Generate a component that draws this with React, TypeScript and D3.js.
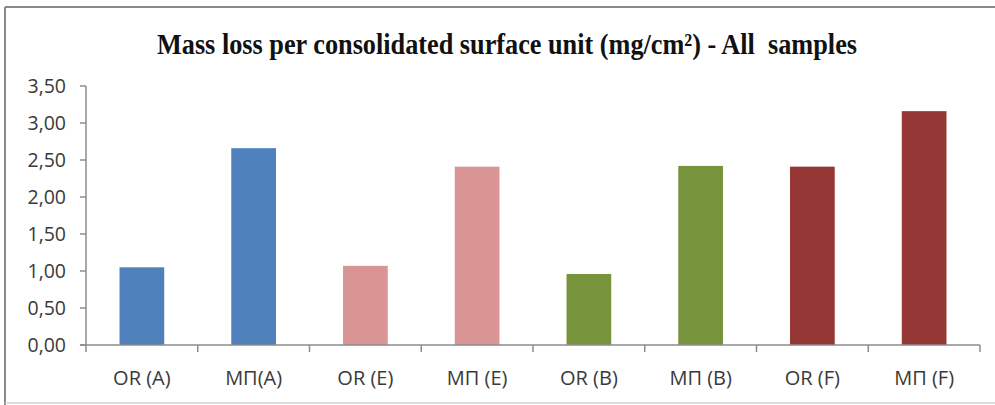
import React from "react";
import * as d3 from "d3";

const categories = ["OR (A)", "MΠ(A)", "OR (E)", "MΠ (E)", "OR (B)", "MΠ (B)", "OR (F)", "MΠ (F)"];
const values = [1.05, 2.66, 1.07, 2.41, 0.96, 2.42, 2.41, 3.16];
const barColors = ["#4F81BD", "#4F81BD", "#D99594", "#D99594", "#77933C", "#77933C", "#953735", "#953735"];
const yTicks = [0, 0.5, 1, 1.5, 2, 2.5, 3, 3.5];
const title = "Mass loss per consolidated surface unit (mg/cm²) - All  samples";

export default function App() {
  const W = 995, H = 405;
  const x0 = 86, x1 = 980, yBase = 345, yTop = 86;
  const x = d3.scaleBand<string>().domain(categories).range([x0, x1]).paddingInner(0.6).paddingOuter(0.3);
  const y = d3.scaleLinear().domain([0, 3.5]).range([yBase, yTop]);
  const fmt = (v: number) => d3.format(".2f")(v).replace(".", ",");
  const step = x.step();
  const boundaries = d3.range(categories.length + 1).map((i) => x0 + i * step);
  const axisColor = "#8C8C8C";
  const textColor = "#3a3a3a";
  const font = "'Open Sans', sans-serif";

  return (
    <svg width={W} height={H} style={{ position: "absolute", left: 0, top: 0, display: "block" }}>
      <rect x={0} y={0} width={W} height={H} fill="#fff" />
      {/* frame */}
      <line x1={5} y1={7} x2={W} y2={7} stroke="#8a8a8a" strokeWidth={2} />
      <line x1={5} y1={7} x2={5} y2={H} stroke="#8a8a8a" strokeWidth={2} />
      <line x1={5} y1={403} x2={W} y2={403} stroke="#d0d0d0" strokeWidth={1.5} />

      <text x={157} y={54} fontFamily="'Liberation Serif', 'Times New Roman', serif" fontWeight="bold"
        fontSize={30} fill="#111" textLength={700} lengthAdjust="spacingAndGlyphs"
        style={{ whiteSpace: "pre" }}>{title}</text>

      {/* bars */}
      {categories.map((c, i) => (
        <rect key={c} x={x(c)} y={y(values[i])} width={x.bandwidth()} height={yBase - y(values[i])}
          fill={barColors[i]} />
      ))}

      {/* y axis */}
      <line x1={x0} y1={yTop} x2={x0} y2={yBase} stroke={axisColor} strokeWidth={1.5} />
      {yTicks.map((t) => (
        <g key={t}>
          <line x1={80} y1={y(t)} x2={x0} y2={y(t)} stroke={axisColor} strokeWidth={1.5} />
          <text x={66} y={y(t)} dy="0.36em" textAnchor="end" fontFamily={font} fontSize={19.5} fill={textColor}>{fmt(t)}</text>
        </g>
      ))}

      {/* x axis */}
      <line x1={x0 - 6} y1={yBase} x2={x1} y2={yBase} stroke={axisColor} strokeWidth={1.5} />
      {boundaries.map((b, i) => (
        <line key={i} x1={b} y1={yBase} x2={b} y2={yBase + 7} stroke={axisColor} strokeWidth={1.5} />
      ))}
      {categories.map((c) => (
        <text key={c} x={(x(c) as number) + x.bandwidth() / 2} y={378} dy="0.36em" textAnchor="middle"
          fontFamily={font} fontSize={20} fill={textColor}>{c}</text>
      ))}
    </svg>
  );
}
